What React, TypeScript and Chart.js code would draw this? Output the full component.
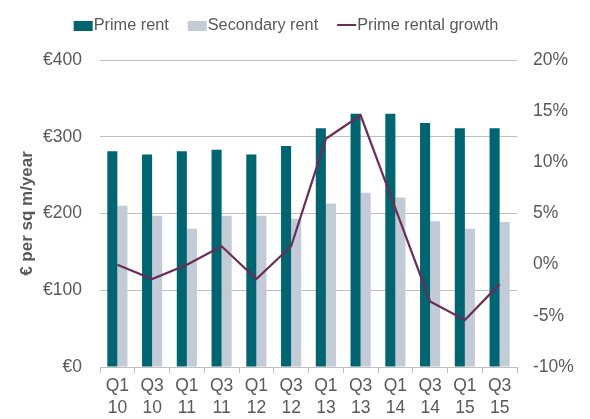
import React, { useEffect, useRef } from 'react';
import { Chart, registerables } from 'chart.js';

Chart.register(...registerables);

const categories: string[][] = [
  ['Q1', '10'], ['Q3', '10'], ['Q1', '11'], ['Q3', '11'], ['Q1', '12'], ['Q3', '12'],
  ['Q1', '13'], ['Q3', '13'], ['Q1', '14'], ['Q3', '14'], ['Q1', '15'], ['Q3', '15'],
];
const primeRent = [281, 277, 281, 283, 277, 288, 311, 330, 330, 318, 311, 311];
const secondaryRent = [210, 197, 180, 197, 197, 193, 213, 227, 221, 190, 180, 189];
const primeGrowth = [0, -1.4, 0, 1.8, -1.4, 1.8, 12.3, 14.6, 5.5, -3.6, -5.4, -1.9];

const leftMin = 0;
const leftMax = 400;
const leftStep = 100;
const rightMin = -10;
const rightMax = 20;
const rightStep = 5;

const FONT = "'Liberation Sans', Arial, sans-serif";
const TEXT = '#595959';
const GRID = '#bfbfbf';
const PRIME = '#006570';
const SECONDARY = '#c3ccd6';
const GROWTH = '#6b2c55';

const legendPlugin = {
  id: 'customLegend',
  afterDraw(chart: any) {
    const ctx = chart.ctx as CanvasRenderingContext2D;
    ctx.save();
    ctx.font = `16.3px ${FONT}`;
    ctx.textBaseline = 'middle';
    ctx.textAlign = 'left';
    const boxW = 19;
    const boxH = 10;
    const textGap = 1;
    const itemGap = 19;
    const items = chart.data.datasets.map((ds: any) => ({
      label: ds.label,
      color: ds.type === 'line' ? ds.borderColor : ds.backgroundColor,
      isLine: ds.type === 'line',
      w: boxW + textGap + ctx.measureText(ds.label).width,
    }));
    const total = items.reduce((s: number, it: any) => s + it.w, 0) + itemGap * (items.length - 1);
    const center = 286;
    const cy = 25;
    let x = center - total / 2;
    for (const it of items) {
      if (it.isLine) {
        ctx.strokeStyle = it.color;
        ctx.lineWidth = 2;
        ctx.beginPath();
        ctx.moveTo(x, cy);
        ctx.lineTo(x + boxW, cy);
        ctx.stroke();
      } else {
        ctx.fillStyle = it.color;
        ctx.fillRect(x, cy - boxH / 2 + 1, boxW, boxH);
      }
      ctx.fillStyle = TEXT;
      ctx.fillText(it.label, x + boxW + textGap, cy + 1);
      x += it.w + itemGap;
    }
    ctx.restore();
  },
};

export default function App() {
  const ref = useRef<HTMLCanvasElement | null>(null);

  useEffect(() => {
    if (!ref.current) return;
    const chart = new Chart(ref.current, {
      type: 'bar',
      data: {
        labels: categories,
        datasets: [
          {
            type: 'bar',
            label: 'Prime rent',
            data: primeRent,
            backgroundColor: PRIME,
            yAxisID: 'y',
            order: 2,
            categoryPercentage: 0.58,
            barPercentage: 1.0,
          },
          {
            type: 'bar',
            label: 'Secondary rent',
            data: secondaryRent,
            backgroundColor: SECONDARY,
            yAxisID: 'y',
            order: 2,
            categoryPercentage: 0.58,
            barPercentage: 1.0,
          },
          {
            type: 'line',
            label: 'Prime rental growth',
            data: primeGrowth,
            borderColor: GROWTH,
            backgroundColor: GROWTH,
            borderWidth: 2.2,
            pointRadius: 0,
            tension: 0,
            yAxisID: 'y1',
            order: 0,
          } as any,
        ],
      },
      options: {
        responsive: true,
        maintainAspectRatio: false,
        animation: false,
        layout: { padding: { top: 60, left: 0, right: 0, bottom: 0 } },
        plugins: {
          legend: { display: false },
          tooltip: { enabled: false },
        },
        scales: {
          x: {
            offset: true,
            grid: {
              display: true,
              offset: true,
              drawOnChartArea: false,
              drawTicks: true,
              tickLength: 6,
              color: GRID,
            },
            border: { display: true, color: GRID, width: 1 },
            ticks: {
              color: TEXT,
              font: { family: FONT, size: 17.5, lineHeight: 1.25 },
              padding: 2,
              maxRotation: 0,
              autoSkip: false,
            },
            afterFit: (s: any) => { s.height = 52; },
          },
          y: {
            position: 'left',
            min: leftMin,
            max: leftMax,
            ticks: {
              stepSize: leftStep,
              color: TEXT,
              font: { family: FONT, size: 17.5 },
              padding: 18,
              callback: (v: any) => '€' + v,
            },
            grid: { color: GRID, drawTicks: false, lineWidth: 1 },
            border: { display: false },
            title: {
              display: true,
              text: '€ per sq m/year',
              color: TEXT,
              font: { family: FONT, size: 17, weight: 'bold' },
              padding: { top: 17, bottom: 0 },
            },
            afterFit: (s: any) => { s.width = 100; },
          },
          y1: {
            position: 'right',
            min: rightMin,
            max: rightMax,
            ticks: {
              stepSize: rightStep,
              color: TEXT,
              font: { family: FONT, size: 17.5 },
              padding: 16,
              callback: (v: any) => v + '%',
            },
            grid: { display: false, drawTicks: false },
            border: { display: false },
            afterFit: (s: any) => { s.width = 73; },
          },
        },
      },
      plugins: [legendPlugin],
    });
    return () => chart.destroy();
  }, []);

  return (
    <div style={{ position: 'fixed', left: 0, top: 0, width: 590, height: 419, background: '#fff' }}>
      <canvas ref={ref} />
    </div>
  );
}
